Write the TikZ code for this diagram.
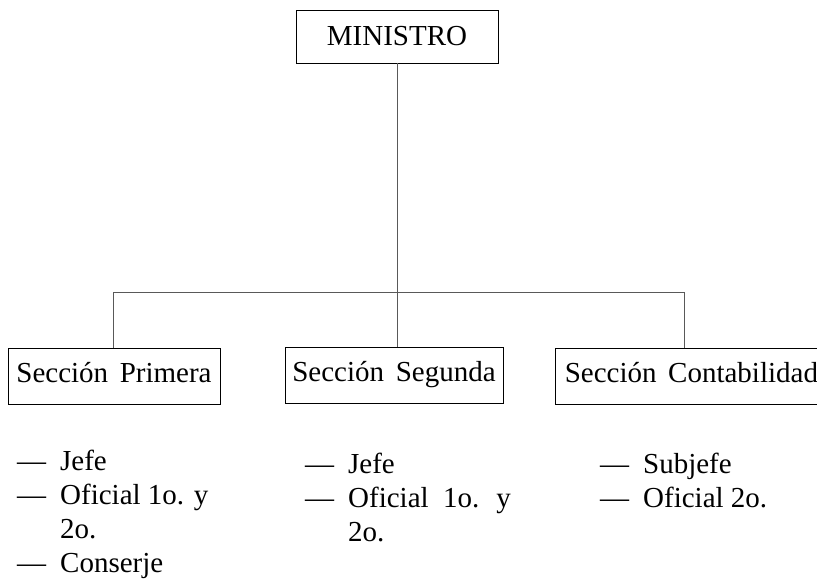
\documentclass[tikz,border=0pt]{standalone}
\usepackage{fontspec}
\setmainfont{Liberation Serif}
\usepackage{tikz}
\usetikzlibrary{positioning,calc}
\tikzset{
  orgfont/.style={font=\fontsize{29}{34}\selectfont},
  orgbox/.style={draw, line width=0.8pt, inner sep=4pt, minimum height=56pt,
    text height=20pt, text depth=8pt},
  orgline/.style={draw=black!65, line width=0.8pt},
  orglist/.style={anchor=north west, inner sep=0pt, align=left},
}
\newcommand{\orgitem}{\textemdash\hspace{14pt}}
\newcommand{\orgcont}{\hphantom{\textemdash}\hspace{14pt}}

\begin{document}
\begin{tikzpicture}[orgfont, x=1pt, y=-1pt]
  \clip (0,0) rectangle (817,579);

  % Top node
  \node[orgbox, minimum width=202pt, minimum height=53pt, text height=21pt, text depth=4pt]
    (ministro) at (397,36.5) {MINISTRO};

  % Section nodes
  \node[orgbox, minimum width=212pt] (primera) at (114,376) {Secci\'on\hspace{0.15em} Primera};
  \node[orgbox, minimum width=218pt] (segunda) at (394,375) {Secci\'on\hspace{0.15em} Segunda};
  \node[orgbox, minimum width=272pt, anchor=west] (conta) at (555,376) {Secci\'on\hspace{0.15em} Contabilidad};

  % Bus coordinates
  \coordinate (busL) at (113,292);
  \coordinate (busR) at (684,292);

  % Connectors
  \draw[orgline] (ministro.south) -- (ministro.south |- segunda.north);
  \draw[orgline] (busL) -- (busR);
  \draw[orgline] (busL) -- (busL |- primera.north);
  \draw[orgline] (busR) -- (busR |- conta.north);

  % Staff lists
  \node[orglist] (listP) at (17,450) {%
    \orgitem Jefe\\
    \orgitem Oficial 1o. y\\
    \orgcont 2o.\\
    \orgitem Conserje};
  \node[orglist] (listS) at (305,453) {%
    \orgitem Jefe\\
    \orgitem Oficial\hspace{0.25em} 1o.\hspace{0.25em} y\\
    \orgcont 2o.};
  \node[orglist] (listC) at (600,453) {%
    \orgitem Subjefe\\
    \orgitem Oficial 2o.};
\end{tikzpicture}
\end{document}
